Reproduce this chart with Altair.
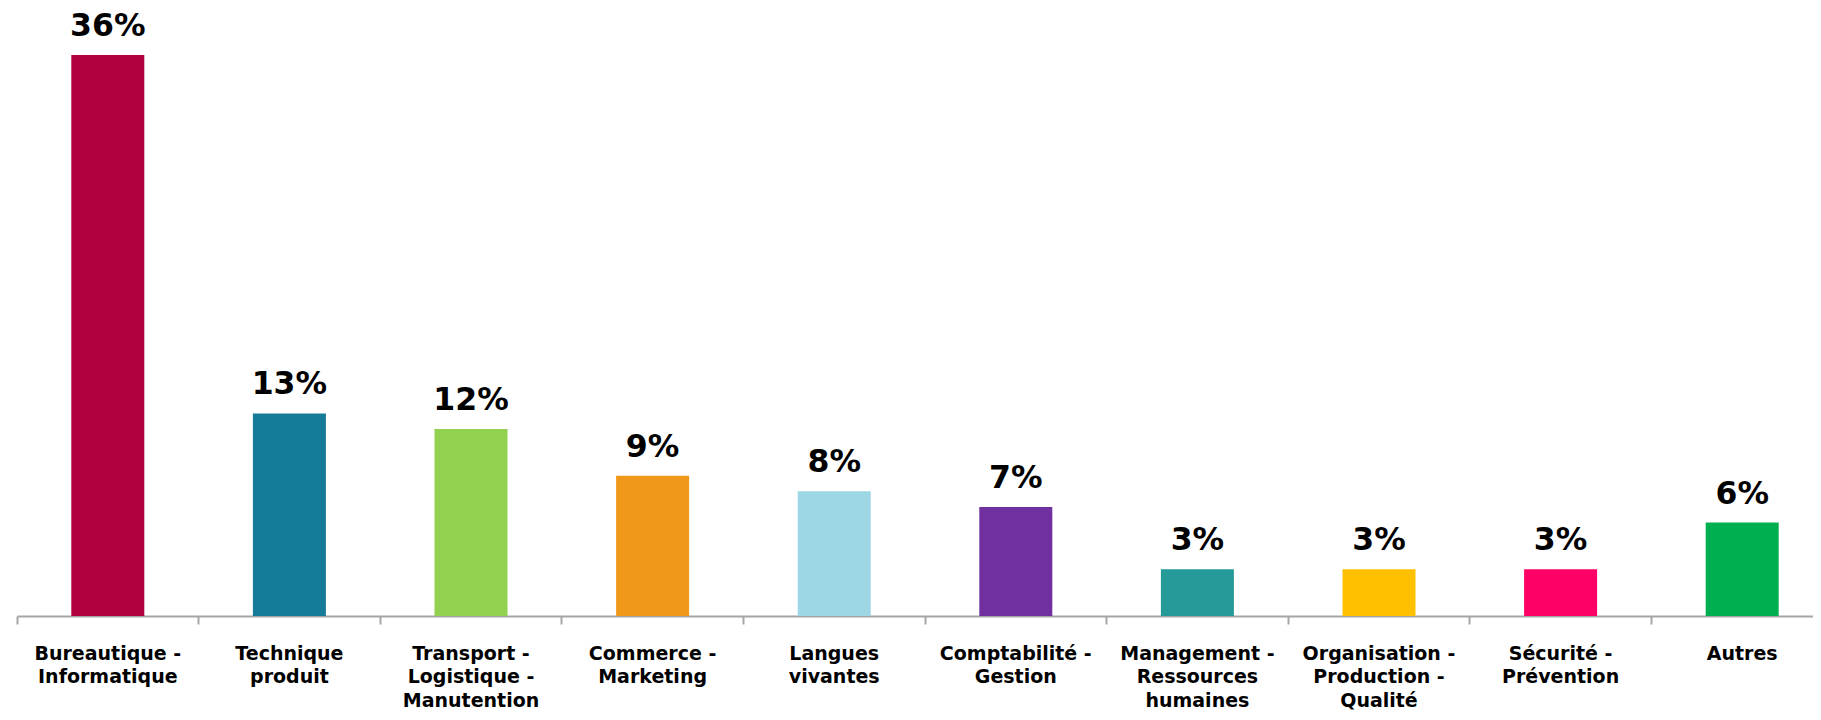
import altair as alt
import pandas as pd

categories = [
    "Bureautique -|Informatique",
    "Technique|produit",
    "Transport -|Logistique -|Manutention",
    "Commerce -|Marketing",
    "Langues|vivantes",
    "Comptabilité -|Gestion",
    "Management -|Ressources|humaines",
    "Organisation -|Production -|Qualité",
    "Sécurité -|Prévention",
    "Autres",
]
values = [36, 13, 12, 9, 8, 7, 3, 3, 3, 6]
colors = [
    "#B0003F", "#167B98", "#92D050", "#F0981A", "#9DD6E4",
    "#7030A0", "#259A99", "#FFC000", "#FF0066", "#00B050",
]

df = pd.DataFrame({
    "cat": categories,
    "val": values,
    "label": [f"{v}%" for v in values],
    "color": colors,
})

x = alt.X(
    "cat:N",
    sort=categories,
    title=None,
    scale=alt.Scale(paddingInner=0, paddingOuter=0),
    axis=alt.Axis(
        bandPosition=0,
        labelExpr="split(datum.label, '|')",
        labelAngle=0,
        labelAlign="center",
        labelBaseline="alphabetic",
        labelFont="DejaVu Sans",
        labelFontWeight="bold",
        labelFontSize=19,
        labelColor="#000000",
        labelLineHeight=23.5,
        labelPadding=35,
        labelOverlap=False,
        labelLimit=400,
        labelFlush=False,
        domainColor="#A6A6A6",
        domainWidth=2,
        tickColor="#A6A6A6",
        tickWidth=2,
        tickSize=8,
        grid=False,
    ),
)
y = alt.Y("val:Q", title=None, scale=alt.Scale(domain=[0, 36], nice=False, zero=True), axis=None)

base = alt.Chart(df)

bars = base.mark_bar(width=alt.RelativeBandSize(0.402)).encode(
    x=x,
    y=y,
    color=alt.Color("color:N", scale=None, legend=None),
)

texts = base.mark_text(
    dy=-19,
    baseline="alphabetic",
    align="center",
    font="DejaVu Sans",
    fontWeight="bold",
    fontSize=31.5,
    color="#000000",
).encode(x=x, y=y, text="label:N")

chart = (
    alt.layer(bars, texts)
    .properties(
        width=1816,
        height=561,
        autosize=alt.AutoSizeParams(type="none"),
        padding={"left": 9, "top": 47, "right": -20, "bottom": 96},
        background="#FFFFFF",
    )
    .configure_view(stroke=None)
)

chart.save("out.html", embed_options={"renderer": "svg", "actions": False})
